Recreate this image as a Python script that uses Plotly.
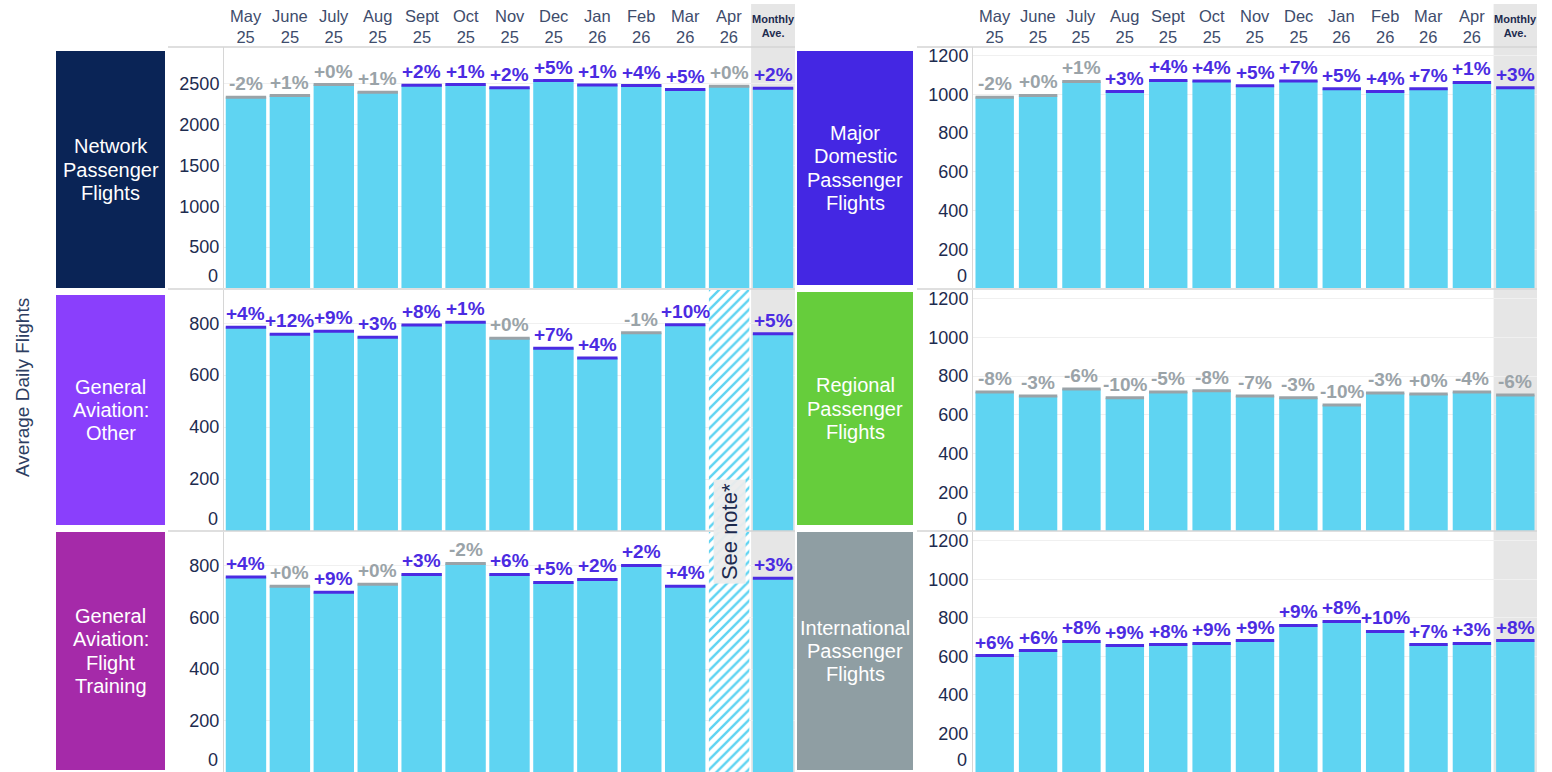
import plotly.graph_objects as go

W, H = 1552, 772

# ---------------- data ----------------
categories = ["May 25", "June 25", "July 25", "Aug 25", "Sept 25", "Oct 25", "Nov 25",
              "Dec 25", "Jan 26", "Feb 26", "Mar 26", "Apr 26", "Monthly Ave."]
header_months = ["May", "June", "July", "Aug", "Sept", "Oct", "Nov", "Dec", "Jan", "Feb", "Mar", "Apr"]
header_years = ["25", "25", "25", "25", "25", "25", "25", "25", "26", "26", "26", "26"]
ave_label = "Monthly<br>Ave."

network = [2334, 2355, 2490, 2396, 2482, 2490, 2450, 2539, 2486, 2478, 2429, 2469, 2445]
network_pct = ["-2%", "+1%", "+0%", "+1%", "+2%", "+1%", "+2%", "+5%", "+1%", "+4%", "+5%", "+0%", "+2%"]
network_hi = [0, 0, 0, 0, 1, 1, 1, 1, 1, 1, 1, 0, 1]

major = [986, 995, 1067, 1015, 1072, 1070, 1045, 1070, 1029, 1015, 1029, 1062, 1034]
major_pct = ["-2%", "+0%", "+1%", "+3%", "+4%", "+4%", "+5%", "+7%", "+5%", "+4%", "+7%", "+1%", "+3%"]
major_hi = [0, 0, 0, 1, 1, 1, 1, 1, 1, 1, 1, 1, 1]

ga_other = [785, 758, 769, 746, 793, 804, 742, 704, 666, 763, 794, None, 760]
ga_other_pct = ["+4%", "+12%", "+9%", "+3%", "+8%", "+1%", "+0%", "+7%", "+4%", "-1%", "+10%", "", "+5%"]
ga_other_hi = [1, 1, 1, 1, 1, 1, 0, 1, 1, 0, 1, 0, 1]

regional = [718, 698, 734, 688, 718, 724, 698, 688, 651, 713, 708, 718, 703]
regional_pct = ["-8%", "-3%", "-6%", "-10%", "-5%", "-8%", "-7%", "-3%", "-10%", "-3%", "+0%", "-4%", "-6%"]
regional_hi = [0] * 13

ga_training = [757, 721, 698, 729, 767, 810, 767, 736, 748, 802, 721, None, 752]
ga_training_pct = ["+4%", "+0%", "+9%", "+0%", "+3%", "-2%", "+6%", "+5%", "+2%", "+2%", "+4%", "", "+3%"]
ga_training_hi = [1, 0, 1, 0, 1, 0, 1, 1, 1, 1, 1, 0, 1]

international = [604, 630, 677, 656, 661, 667, 682, 760, 781, 729, 661, 667, 682]
international_pct = ["+6%", "+6%", "+8%", "+9%", "+8%", "+9%", "+9%", "+9%", "+8%", "+10%", "+7%", "+3%", "+8%"]
international_hi = [1] * 13

panel_titles = [["Network", "Passenger", "Flights"],
                ["Major", "Domestic", "Passenger", "Flights"],
                ["General", "Aviation:", "Other"],
                ["Regional", "Passenger", "Flights"],
                ["General", "Aviation:", "Flight", "Training"],
                ["International", "Passenger", "Flights"]]
note_text = "See note*"
y_title = "Average Daily Flights"

# ---------------- style / layout ----------------
BAR = "#5fd4f2"
PURPLE = "#4b2be2"
GREY = "#9aa3a8"
TICK = "#1d2b4f"
HEAD = "#3e4c6c"
FONT = "Liberation Sans, Arial, sans-serif"
box_colors = ["#0a2456", "#4427e3", "#8a3ffc", "#66cd3c", "#a52aa9", "#8f9ea3"]

def xp(px):
    return px / W

def yp(py):
    return 1 - py / H

rows_px = [(47, 288), (290, 531), (532, 772)]
cols_px = [(224, 795), (973, 1537)]
box_x = [(56, 165), (797, 913)]
box_y = [[(51, 288), (295, 525), (532, 770)], [(51, 285), (292, 525), (532, 770)]]
TITLE_LINE = 23.3

panels = [
    # (row, col, values, pct, hi, yrange, dtick)
    (0, 0, network, network_pct, network_hi, 2950, 500),
    (0, 1, major, major_pct, major_hi, 1245, 200),
    (1, 0, ga_other, ga_other_pct, ga_other_hi, 928, 200),
    (1, 1, regional, regional_pct, regional_hi, 1245, 200),
    (2, 0, ga_training, ga_training_pct, ga_training_hi, 932, 200),
    (2, 1, international, international_pct, international_hi, 1245, 200),
]

fig = go.Figure()
layout = dict(
    width=W, height=H, margin=dict(l=0, r=0, t=0, b=0),
    paper_bgcolor="white", plot_bgcolor="rgba(0,0,0,0)",
    showlegend=False, barmode="overlay",
    font=dict(family=FONT, color=TICK),
)
shapes = []
annotations = []

for k, (r, c, vals, pct, hi, ymax, dtick) in enumerate(panels):
    idx = k + 1
    xa = "x" if idx == 1 else f"x{idx}"
    ya = "y" if idx == 1 else f"y{idx}"
    xkey = "xaxis" if idx == 1 else f"xaxis{idx}"
    ykey = "yaxis" if idx == 1 else f"yaxis{idx}"
    x0, x1 = cols_px[c]
    top, bot = rows_px[r]
    bw = 0.92 if c == 0 else 0.885
    bar_px = bw * (x1 - x0) / 13

    cols = [PURPLE if h else GREY for h in hi]
    xs = [cat for cat, v in zip(categories, vals) if v is not None]
    ys = [v for v in vals if v is not None]
    cs = [col for col, v in zip(cols, vals) if v is not None]
    ts = [t for t, v in zip(pct, vals) if v is not None]

    # hatched "see note" column
    if c == 0 and r >= 1:
        fig.add_trace(go.Bar(
            x=["Apr 26"], y=[ymax], width=bw, xaxis=xa, yaxis=ya,
            marker=dict(color="white", line=dict(width=0),
                        pattern=dict(shape="/", fgcolor=BAR, bgcolor="white",
                                     size=7, solidity=0.35, fillmode="replace")),
            hoverinfo="skip"))

    fig.add_trace(go.Bar(
        x=xs, y=ys, width=bw, xaxis=xa, yaxis=ya,
        marker=dict(color=BAR, line=dict(width=0)),
        hoverinfo="skip"))
    fig.add_trace(go.Scatter(
        x=xs, y=ys, xaxis=xa, yaxis=ya, mode="markers", cliponaxis=False,
        marker=dict(symbol="line-ew", size=bar_px / 1.4, line=dict(width=3, color=cs)),
        hoverinfo="skip"))
    for xv, yv, tv, cv in zip(xs, ys, ts, cs):
        annotations.append(dict(text=f"<b>{tv}</b>", xref=xa, yref=ya, x=xv, y=yv,
                                xanchor="center", yanchor="bottom", yshift=2,
                                showarrow=False, borderpad=0,
                                font=dict(family=FONT, size=19, color=cv)))

    layout[xkey] = dict(domain=[xp(x0), xp(x1)], anchor=ya, type="category",
                        categoryorder="array", categoryarray=categories,
                        range=[-0.5, 12.5], showticklabels=False, showgrid=False,
                        zeroline=False, showline=False, ticks="", fixedrange=True)
    tickvals = list(range(dtick, int(ymax) + 1, dtick))
    layout[ykey] = dict(domain=[yp(bot), yp(top)], anchor=xa, range=[0, ymax],
                        tickvals=tickvals, showgrid=True, gridcolor="#f0f0f0",
                        zeroline=False, showline=True, linecolor="#d6d6d6", linewidth=1,
                        ticks="", tickfont=dict(family=FONT, size=18, color=TICK),
                        fixedrange=True)
    # raised zero label
    annotations.append(dict(text="0", xref="paper", yref=ya, x=xp(x0 - 4), y=0,
                            xanchor="right", yanchor="bottom", showarrow=False,
                            font=dict(family=FONT, size=18, color=TICK)))

    # label box
    bx0, bx1 = box_x[c]
    by0, by1 = box_y[c][r]
    shapes.append(dict(type="rect", xref="paper", yref="paper",
                       x0=xp(bx0), x1=xp(bx1), y0=yp(by1), y1=yp(by0),
                       fillcolor=box_colors[k], line=dict(width=0), layer="below"))
    lines = panel_titles[k]
    cy = (by0 + by1) / 2
    for j, line in enumerate(lines):
        ly = cy + (j - (len(lines) - 1) / 2) * TITLE_LINE
        annotations.append(dict(text=line, xref="paper", yref="paper",
                                x=xp((bx0 + bx1) / 2), y=yp(ly),
                                xanchor="center", yanchor="middle", showarrow=False,
                                font=dict(family=FONT, size=20, color="white")))

# Monthly average grey column + header + row lines
for c, xa in enumerate(["x", "x2"]):
    x0, x1 = cols_px[c]
    shapes.append(dict(type="rect", xref=xa, yref="paper", x0=11.5, x1=12.5,
                       y0=0, y1=yp(4), fillcolor="#e6e6e6", line=dict(width=0), layer="below"))
    for i, (m, yr) in enumerate(zip(header_months, header_years)):
        annotations.append(dict(text=f"{m}<br>{yr}", xref=xa, yref="paper",
                                x=categories[i], y=yp(26.5), xanchor="center", yanchor="middle",
                                showarrow=False, font=dict(family=FONT, size=16.5, color=HEAD)))
    annotations.append(dict(text=f"<b>{ave_label}</b>", xref=xa, yref="paper",
                            x=categories[12], y=yp(26), xanchor="center", yanchor="middle",
                            showarrow=False, font=dict(family=FONT, size=11, color="#1d2b4f")))
    lx0 = 168 if c == 0 else 917
    for ly in [47, 289, 531]:
        shapes.append(dict(type="line", xref="paper", yref="paper",
                           x0=xp(lx0), x1=xp(x1), y0=yp(ly), y1=yp(ly),
                           line=dict(color="#d4d4d4", width=1.5), layer="above"))

# see note
annotations.append(dict(text=note_text, xref="x3", yref="paper", x="Apr 26", y=yp(532),
                        textangle=-90, showarrow=False, xanchor="center", yanchor="middle",
                        bgcolor="rgba(236,236,236,0.95)", borderpad=3,
                        font=dict(family=FONT, size=22, color=TICK)))
# y title
annotations.append(dict(text=y_title, xref="paper", yref="paper", x=xp(22), y=yp(388),
                        textangle=-90, showarrow=False, xanchor="center", yanchor="middle",
                        font=dict(family=FONT, size=19, color="#2d3e62")))

layout["shapes"] = shapes
layout["annotations"] = annotations
fig.update_layout(**layout)
fig.write_html("out.html")
